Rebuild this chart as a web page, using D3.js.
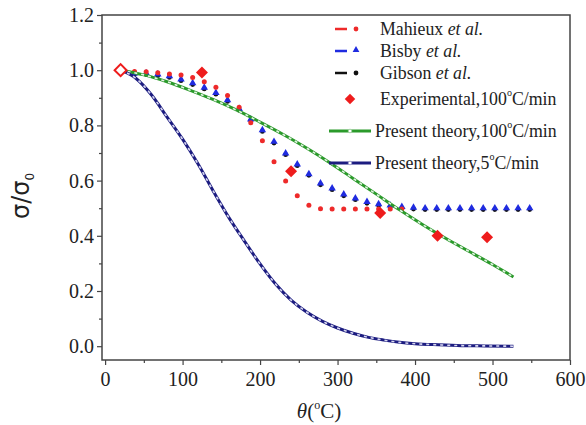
<!DOCTYPE html>
<html>
<head>
<meta charset="utf-8">
<script src="https://cdn.jsdelivr.net/npm/d3@7"></script>
<style>
  body { margin: 0; background: #fff; }
  svg { display: block; }
  text { font-family: "Liberation Serif", "Times New Roman", serif; fill: #222; }
</style>
</head>
<body>
<div id="chart-area"></div>
<script>
// ---- data ----
var mahieuxTheta = [38, 53, 68, 83, 98, 113, 128, 143, 158, 173, 188, 203, 218, 233, 248,
                    263, 278, 293, 308, 323, 338, 353, 368, 383];
var mahieuxRatio = [0.995, 0.994, 0.991, 0.986, 0.983, 0.974, 0.958, 0.938, 0.908, 0.866, 0.81, 0.744,
                    0.668, 0.599, 0.545, 0.511, 0.498, 0.497, 0.497, 0.497, 0.497, 0.497, 0.497, 0.497];

var bisbyTheta = [38, 53, 68, 83, 98, 113, 128, 143, 158, 173, 188, 203, 218, 233, 248, 263, 278,
                  293, 308, 323, 338, 353, 368, 383, 398, 413, 428, 443, 458, 473, 488, 503, 518, 533, 548];
var bisbyRatio = [0.989, 0.989, 0.985, 0.979, 0.967, 0.953, 0.937, 0.918, 0.892, 0.86, 0.822, 0.783,
                  0.741, 0.699, 0.659, 0.624, 0.59, 0.572, 0.55, 0.536, 0.523, 0.515, 0.51, 0.505,
                  0.502, 0.5, 0.5, 0.5, 0.5, 0.5, 0.5, 0.5, 0.5, 0.5, 0.5];

var gibsonTheta = [38, 53, 68, 83, 98, 113, 128, 143, 158, 173, 188, 203, 218, 233, 248, 263, 278,
                   293, 308, 323, 338, 353, 368, 383, 398, 413, 428, 443, 458, 473, 488, 503, 518, 533, 548];
var gibsonRatio = [0.984, 0.984, 0.98, 0.974, 0.962, 0.948, 0.932, 0.913, 0.887, 0.855, 0.817, 0.778,
                   0.736, 0.694, 0.654, 0.619, 0.585, 0.567, 0.545, 0.531, 0.518, 0.51, 0.505, 0.5,
                   0.497, 0.495, 0.495, 0.495, 0.495, 0.495, 0.495, 0.495, 0.495, 0.495, 0.495];

var expTheta = [20, 125, 240, 355, 429, 493];
var expRatio = [1.0, 0.992, 0.634, 0.483, 0.40, 0.395];

var theory100Theta = [20, 50, 80, 110, 140, 170, 200, 230, 260, 290, 320, 350, 380, 410, 440, 470, 500, 527];
var theory100Ratio = [1.0, 0.983, 0.958, 0.927, 0.893, 0.855, 0.812, 0.767, 0.718, 0.665, 0.608, 0.551,
                      0.494, 0.44, 0.39, 0.343, 0.296, 0.251];

var theory5Theta = [20, 40, 60, 80, 100, 120, 140, 160, 180, 200, 220, 240, 260, 280, 300, 320,
                    340, 360, 380, 400, 430, 460, 490, 527];
var theory5Ratio = [1.0, 0.97, 0.91, 0.83, 0.75, 0.66, 0.56, 0.465, 0.38, 0.298, 0.225, 0.167,
                    0.124, 0.091, 0.066, 0.047, 0.032, 0.022, 0.014, 0.009, 0.005, 0.002, 0.001, 0.0];

var xTicks = [0, 100, 200, 300, 400, 500, 600];
var yTicks = [0.0, 0.2, 0.4, 0.6, 0.8, 1.0, 1.2];

// ---- layout ----
var width = 586, height = 425;
var margin = { left: 102, right: 570, top: 15, bottom: 360 };

var svg = d3.select("#chart-area")
    .append("svg")
        .attr("width", width)
        .attr("height", height);

var x = d3.scaleLinear().domain([-4, 600]).range([margin.left, margin.right]);
var y = d3.scaleLinear().domain([-0.05, 1.2]).range([margin.bottom, margin.top]);

function zip(a, b) {
    return a.map(function(d, i) { return [d, b[i]]; });
}

// axes
var xAxis = d3.axisBottom(x).tickValues(xTicks).tickSize(5).tickFormat(d3.format("d"));
var yAxis = d3.axisLeft(y).tickValues(yTicks).tickSize(5).tickFormat(d3.format(".1f"));

var xMinor = d3.axisBottom(x).tickValues([50, 150, 250, 350, 450, 550]).tickSize(3).tickFormat("");
var yMinor = d3.axisLeft(y).tickValues([0.1, 0.3, 0.5, 0.7, 0.9, 1.1]).tickSize(3).tickFormat("");

svg.append("g").attr("transform", "translate(0," + margin.bottom + ")").call(xMinor);
svg.append("g").attr("transform", "translate(" + margin.left + ",0)").call(yMinor);

var gx = svg.append("g")
    .attr("transform", "translate(0," + margin.bottom + ")")
    .call(xAxis);
gx.selectAll("text")
    .attr("y", 12)
    .attr("font-size", "20px")
    .attr("font-family", "Liberation Serif, serif")
    .attr("fill", "#222");

var gy = svg.append("g")
    .attr("transform", "translate(" + margin.left + ",0)")
    .call(yAxis);
gy.selectAll("text")
    .attr("x", -8)
    .attr("font-size", "20px")
    .attr("font-family", "Liberation Serif, serif")
    .attr("fill", "#222");

svg.selectAll(".domain").remove();
svg.selectAll(".tick line").attr("stroke", "#444").attr("stroke-width", 1.2);

// frame
svg.append("rect")
    .attr("x", margin.left)
    .attr("y", margin.top)
    .attr("width", margin.right - margin.left)
    .attr("height", margin.bottom - margin.top)
    .attr("fill", "none")
    .attr("stroke", "#444")
    .attr("stroke-width", 1.5);

// axis titles
var xt = svg.append("text")
    .attr("x", 319)
    .attr("y", 418)
    .attr("text-anchor", "middle")
    .attr("font-size", "21px");
xt.append("tspan").attr("font-style", "italic").text("θ");
xt.append("tspan").text("(");
xt.append("tspan").attr("font-size", "12px").attr("dy", -9).text("o");
xt.append("tspan").attr("dy", 9).text("C)");

var yt = svg.append("text")
    .attr("transform", "translate(29,196) rotate(-90)")
    .attr("text-anchor", "middle")
    .style("font-family", "DejaVu Sans, sans-serif")
    .attr("font-size", "24px");
yt.append("tspan").text("σ/σ");
yt.append("tspan").attr("font-size", "12px").attr("dy", 5).text("0");

// series
var line = d3.line()
    .curve(d3.curveMonotoneX)
    .x(function(d) { return x(d[0]); })
    .y(function(d) { return y(d[1]); });

var plot = svg.append("g");

plot.selectAll(".gibson")
    .data(zip(gibsonTheta, gibsonRatio))
    .enter().append("circle")
        .attr("cx", function(d) { return x(d[0]); })
        .attr("cy", function(d) { return y(d[1]); })
        .attr("r", 2.4)
        .attr("fill", "#111");

plot.selectAll(".bisby")
    .data(zip(bisbyTheta, bisbyRatio))
    .enter().append("path")
        .attr("d", d3.symbol().type(d3.symbolTriangle).size(24))
        .attr("transform", function(d) { return "translate(" + x(d[0]) + "," + y(d[1]) + ")"; })
        .attr("fill", "#1f2be0");

plot.selectAll(".mahieux")
    .data(zip(mahieuxTheta, mahieuxRatio))
    .enter().append("circle")
        .attr("cx", function(d) { return x(d[0]); })
        .attr("cy", function(d) { return y(d[1]); })
        .attr("r", 2.5)
        .attr("fill", "#ee2a2a");

function theoryLine(data, color, gap) {
    plot.append("path")
        .datum(data)
        .attr("d", line)
        .attr("fill", "none")
        .attr("stroke", color)
        .attr("stroke-width", 3);
    plot.append("path")
        .datum(data)
        .attr("d", line)
        .attr("fill", "none")
        .attr("stroke", gap)
        .attr("stroke-width", 1.6)
        .attr("stroke-dasharray", "3,4");
}
theoryLine(zip(theory100Theta, theory100Ratio), "#2b9a2b", "#e4f2e4");
theoryLine(zip(theory5Theta, theory5Ratio), "#1c1c80", "#d8d8f0");

plot.selectAll(".exp")
    .data(zip(expTheta, expRatio))
    .enter().append("path")
        .attr("d", d3.symbol().type(d3.symbolSquare).size(72))
        .attr("transform", function(d) { return "translate(" + x(d[0]) + "," + y(d[1]) + ") rotate(45)"; })
        .attr("fill", function(d, i) { return i === 0 ? "#fff" : "#ee1c1c"; })
        .attr("stroke", "#ee1c1c")
        .attr("stroke-width", function(d, i) { return i === 0 ? 2 : 0; });

// legend
var legend = svg.append("g").attr("font-size", "17.8px");

function legendLabel(yy, xx, name) {
    var t = legend.append("text").attr("x", xx).attr("y", yy + 6);
    t.append("tspan").text(name);
    t.append("tspan").attr("font-style", "italic").text(" et al.");
}
function legendRate(yy, xx, pre, rate) {
    var t = legend.append("text").attr("x", xx).attr("y", yy + 6);
    t.append("tspan").text(pre + "," + rate);
    t.append("tspan").attr("font-size", "10px").attr("dy", -9).text("o");
    t.append("tspan").attr("dy", 9).text("C/min");
}

var rows = [29, 51, 73, 99, 131, 163];

legend.append("line").attr("x1", 335).attr("x2", 347).attr("y1", rows[0]).attr("y2", rows[0])
    .attr("stroke", "#ee2a2a").attr("stroke-width", 2.5);
legend.append("circle").attr("cx", 356).attr("cy", rows[0]).attr("r", 2.4).attr("fill", "#ee2a2a");
legendLabel(rows[0], 380, "Mahieux");

legend.append("line").attr("x1", 335).attr("x2", 347).attr("y1", rows[1]).attr("y2", rows[1])
    .attr("stroke", "#1f2be0").attr("stroke-width", 2.5);
legend.append("path").attr("d", d3.symbol().type(d3.symbolTriangle).size(20))
    .attr("transform", "translate(356," + (rows[1] - 1) + ")").attr("fill", "#1f2be0");
legendLabel(rows[1], 380, "Bisby");

legend.append("line").attr("x1", 335).attr("x2", 347).attr("y1", rows[2]).attr("y2", rows[2])
    .attr("stroke", "#111").attr("stroke-width", 2.5);
legend.append("circle").attr("cx", 356).attr("cy", rows[2]).attr("r", 2.4).attr("fill", "#111");
legendLabel(rows[2], 380, "Gibson");

legend.append("path").attr("d", d3.symbol().type(d3.symbolSquare).size(55))
    .attr("transform", "translate(350," + rows[3] + ") rotate(45)").attr("fill", "#ee1c1c");
legendRate(rows[3], 380, "Experimental", "100");

legend.append("line").attr("x1", 329).attr("x2", 371).attr("y1", rows[4]).attr("y2", rows[4])
    .attr("stroke", "#2b9a2b").attr("stroke-width", 3);
legend.append("circle").attr("cx", 350).attr("cy", rows[4]).attr("r", 1.8)
    .attr("fill", "#fff").attr("stroke", "#9c9").attr("stroke-width", 0.8);
legendRate(rows[4], 375, "Present theory", "100");

legend.append("line").attr("x1", 329).attr("x2", 371).attr("y1", rows[5]).attr("y2", rows[5])
    .attr("stroke", "#1c1c80").attr("stroke-width", 3);
legend.append("circle").attr("cx", 350).attr("cy", rows[5]).attr("r", 1.8)
    .attr("fill", "#fff").attr("stroke", "#99c").attr("stroke-width", 0.8);
legendRate(rows[5], 375, "Present theory", "5");
</script>
</body>
</html>
